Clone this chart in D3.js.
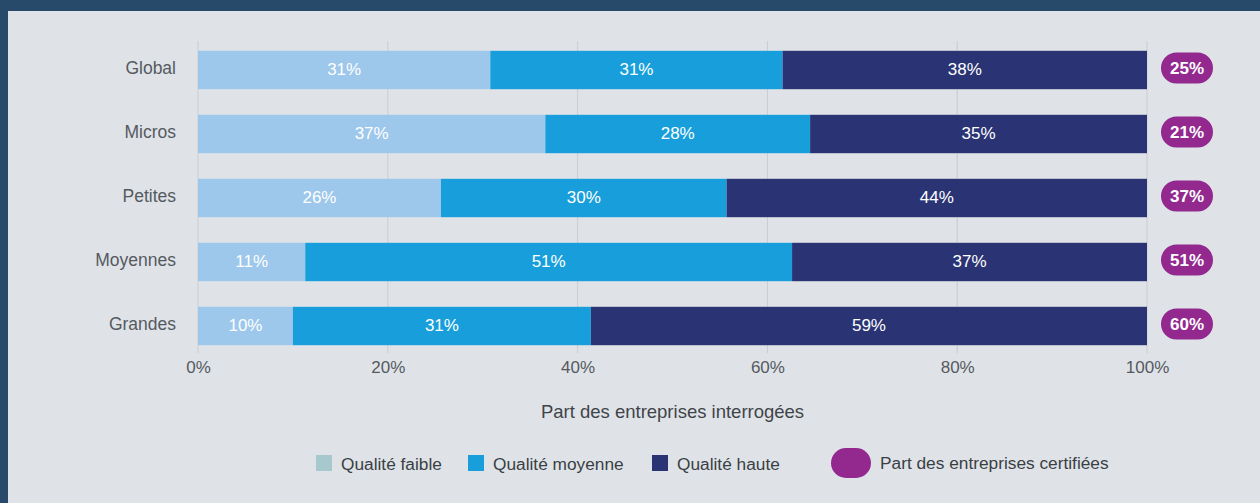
<!DOCTYPE html>
<html><head><meta charset="utf-8">
<script src="https://cdn.jsdelivr.net/npm/d3@7"></script>
<style>
html,body{margin:0;padding:0;background:#274a6b;}
svg{display:block;font-family:"Liberation Sans",Arial,Helvetica,sans-serif;}
</style></head>
<body>
<svg id="chart" width="1260" height="503"></svg>
<script>
const categories = ["Global", "Micros", "Petites", "Moyennes", "Grandes"];
const faible  = [30.8, 36.6, 25.6, 11.3, 10.0];
const moyenne = [30.8, 27.9, 30.1, 51.3, 31.4];
const haute   = [38.4, 35.5, 44.3, 37.4, 58.6];
const labelsFaible  = ["31%", "37%", "26%", "11%", "10%"];
const labelsMoyenne = ["31%", "28%", "30%", "51%", "31%"];
const labelsHaute   = ["38%", "35%", "44%", "37%", "59%"];
const certifiees = [25, 21, 37, 51, 60];
const xTicks = [0, 20, 40, 60, 80, 100];
const seriesNames = ["Qualité faible", "Qualité moyenne", "Qualité haute"];
const certLegend = "Part des entreprises certifiées";
const axisTitle = "Part des entreprises interrogées";

const svg = d3.select("#chart");
svg.append("rect").attr("x",0).attr("y",0).attr("width",1260).attr("height",503).attr("fill","#274a6b");
svg.append("rect").attr("x",8).attr("y",11).attr("width",1252).attr("height",492).attr("fill","#dfe3e8");

const x = d3.scaleLinear().domain([0,100]).range([198,1147]);
const y = d3.scaleBand().domain(categories).range([38,358]).paddingInner(0.4).paddingOuter(0.2);

svg.append("g").selectAll("line").data(xTicks).join("line")
  .attr("x1",d=>x(d)).attr("x2",d=>x(d)).attr("y1",41).attr("y2",353)
  .attr("stroke","#c9cdd2").attr("stroke-width",1);

const colors = ["#9dc7eb","#189fdb","#2a3475"];
const stackData = categories.map((c,i)=>({cat:c, f:faible[i], m:moyenne[i], h:haute[i]}));
const stack = d3.stack().keys(["f","m","h"])(stackData);
const labArr = [labelsFaible, labelsMoyenne, labelsHaute];

stack.forEach((layer,k)=>{
  const g = svg.append("g");
  g.selectAll("rect").data(layer).join("rect")
    .attr("x",d=>x(d[0])).attr("width",d=>x(d[1])-x(d[0]))
    .attr("y",d=>y(d.data.cat)).attr("height",y.bandwidth())
    .attr("fill",colors[k]);
  g.selectAll("text").data(layer).join("text")
    .attr("x",d=>(x(d[0])+x(d[1]))/2).attr("y",(d)=>y(d.data.cat)+y.bandwidth()/2-1)
    .attr("dy","0.35em").attr("text-anchor","middle")
    .attr("fill","#ffffff").attr("font-size",17)
    .text((d,i)=>labArr[k][i]);
});

svg.append("g").selectAll("text").data(categories).join("text")
  .attr("x",176).attr("y",d=>y(d)+y.bandwidth()/2-2).attr("dy","0.35em")
  .attr("text-anchor","end").attr("fill","#555a60").attr("font-size",17.5).text(d=>d);

const xAxis = d3.axisBottom(x).tickValues(xTicks).tickFormat(d=>d+"%").tickSize(0).tickPadding(0);
const ax = svg.append("g").attr("transform","translate(0,361)").call(xAxis);
ax.select(".domain").remove();
ax.selectAll("text").attr("fill","#555a60").attr("font-size",17).attr("font-family","Liberation Sans, Arial, sans-serif");

svg.append("text").attr("x",(x(0)+x(100))/2).attr("y",418).attr("text-anchor","middle")
  .attr("fill","#3f4449").attr("font-size",18.5).text(axisTitle);

const bw = 52, bh = 31;
const bg = svg.append("g").selectAll("g").data(categories).join("g")
  .attr("transform",d=>`translate(1187,${y(d)+y.bandwidth()/2-2})`);
bg.append("rect").attr("x",-bw/2).attr("y",-bh/2).attr("width",bw).attr("height",bh)
  .attr("rx",bh/2).attr("fill","#93288f");
bg.append("text").attr("text-anchor","middle").attr("dy","0.36em").attr("fill","#fff")
  .attr("font-size",17).attr("font-weight","bold").text((d,i)=>certifiees[i]+"%");

const legColors = ["#a7c9cd","#189fdb","#2a3475"];
const legX = [316, 468, 652];
const lg = svg.append("g");
seriesNames.forEach((n,i)=>{
  lg.append("rect").attr("x",legX[i]).attr("y",455).attr("width",16).attr("height",16).attr("fill",legColors[i]);
  lg.append("text").attr("x",legX[i]+25).attr("y",464).attr("dy","0.35em").attr("fill","#3a3f44")
    .attr("font-size",17.3).text(n);
});
lg.append("rect").attr("x",831).attr("y",448).attr("width",40).attr("height",30).attr("rx",15).attr("fill","#93288f");
lg.append("text").attr("x",880).attr("y",463).attr("dy","0.35em").attr("fill","#3a3f44")
  .attr("font-size",17.3).text(certLegend);
</script>
</body></html>
